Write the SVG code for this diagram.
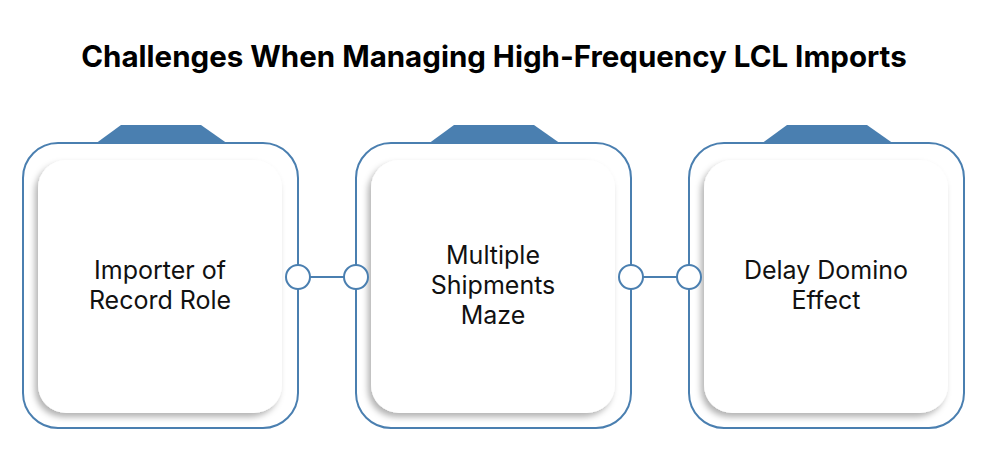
<svg xmlns="http://www.w3.org/2000/svg" width="987" height="459" viewBox="0 0 987 459">
<defs>
<style>
.outer{fill:#fff;stroke:#4a7fb0;stroke-width:2}
.tab{fill:#4a7fb0}
.inner{fill:#fff;filter:url(#sh)}
.lbl{font-family:"Inter","Liberation Sans",sans-serif;font-size:25px;fill:#111;text-anchor:middle}
.dot{fill:#fff;stroke:#4a7fb0;stroke-width:2}
</style>
<filter id="sh" x="-10%" y="-10%" width="120%" height="120%"><feDropShadow dx="-3" dy="4" stdDeviation="3" flood-color="#000" flood-opacity="0.3"/></filter>
</defs>
<rect width="987" height="459" fill="#fff"/>
<text x="494" y="67" font-family="Inter,'Liberation Sans',sans-serif" font-size="29.5" font-weight="bold" text-anchor="middle" fill="#000">Challenges When Managing High-Frequency LCL Imports</text>
<g id="node1">
<path class="tab" d="M95 144 L121 125 L201 125 L228 144 Z"/>
<rect class="outer" x="23" y="143" width="275" height="285" rx="35"/>
<rect class="inner" x="38" y="160" width="244" height="253" rx="28"/>
<text class="lbl" x="160" y="279">Importer of</text>
<text class="lbl" x="160" y="309">Record Role</text>
</g>
<g id="node2">
<path class="tab" d="M428 144 L454 125 L534 125 L561 144 Z"/>
<rect class="outer" x="356" y="143" width="275" height="285" rx="35"/>
<rect class="inner" x="371" y="160" width="244" height="253" rx="28"/>
<text class="lbl" x="493" y="264">Multiple</text>
<text class="lbl" x="493" y="294">Shipments</text>
<text class="lbl" x="493" y="324">Maze</text>
</g>
<g id="node3">
<path class="tab" d="M761 144 L787 125 L867 125 L894 144 Z"/>
<rect class="outer" x="689" y="143" width="275" height="285" rx="35"/>
<rect class="inner" x="704" y="160" width="244" height="253" rx="28"/>
<text class="lbl" x="826" y="279">Delay Domino</text>
<text class="lbl" x="826" y="309">Effect</text>
</g>
<g id="connectors">
<line x1="298" y1="277" x2="356" y2="277" stroke="#4a7fb0" stroke-width="2"/>
<circle class="dot" cx="298" cy="277" r="12"/>
<circle class="dot" cx="356" cy="277" r="12"/>
<line x1="631" y1="277" x2="689" y2="277" stroke="#4a7fb0" stroke-width="2"/>
<circle class="dot" cx="631" cy="277" r="12"/>
<circle class="dot" cx="689" cy="277" r="12"/>
</g>
</svg>
